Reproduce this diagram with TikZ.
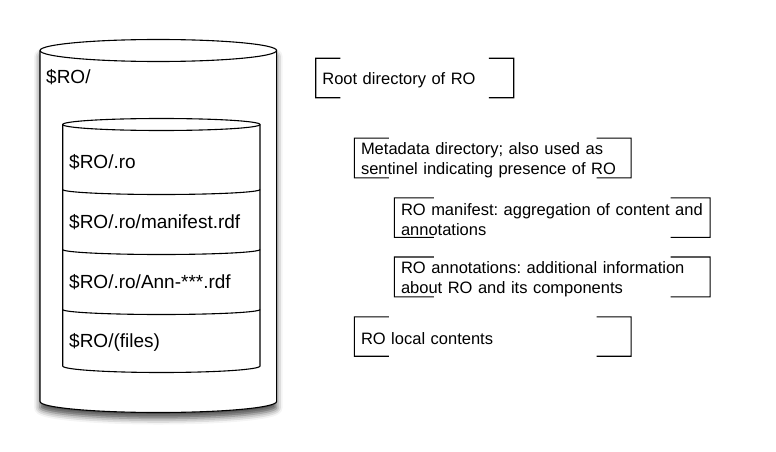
\documentclass[tikz,border=0pt]{standalone}
\usepackage{fontspec}
\setmainfont{Liberation Sans}
\frenchspacing
\usetikzlibrary{positioning,calc,shadows.blur}
\tikzset{
  can/.style={draw=black, line width=1.1pt, fill=white},
  rim/.style={draw=black, line width=1.1pt},
  lbl/.style={anchor=base west, inner sep=0pt, font=\fontsize{19}{23}\selectfont},
  note/.style={anchor=north west, inner xsep=6.5pt, inner ysep=0pt, minimum height=39pt, align=left, font=\fontsize{16.5}{20}\selectfont, execute at begin node=\rule{0pt}{16pt}},
  brk/.style={draw=black, line width=1.1pt}}

\begin{document}
\begin{tikzpicture}[x=1pt, y=-1pt]
\useasboundingbox (0,0) rectangle (776,452);
% outer cylinder
\path[can, blur shadow={shadow xshift=0pt, shadow yshift=-6pt, shadow blur radius=6pt, shadow opacity=70}]
  (40,50.5) -- (40,401.5) arc[start angle=180, end angle=360, x radius=118.3pt, y radius=11pt]
  -- (276.6,50.5) arc[start angle=0, end angle=180, x radius=118.3pt, y radius=11pt] -- cycle;
\draw[rim] (40,50.5) arc[start angle=180, end angle=360, x radius=118.3pt, y radius=11pt];
\node[lbl] (rodir) at (46,84) {\$RO/};
% inner cylinder
\path[can] (62.7,124.5) -- (62.7,366) arc[start angle=180, end angle=360, x radius=98.65pt, y radius=6.5pt]
  -- (260,124.5) arc[start angle=0, end angle=180, x radius=98.65pt, y radius=6pt] -- cycle;
\draw[rim] (62.7,124.5) arc[start angle=180, end angle=360, x radius=98.65pt, y radius=6pt];
\draw[rim] (62.7,189.5) arc[start angle=180, end angle=360, x radius=98.65pt, y radius=5pt];
\draw[rim] (62.7,249.5) arc[start angle=180, end angle=360, x radius=98.65pt, y radius=5pt];
\draw[rim] (62.7,309.5) arc[start angle=180, end angle=360, x radius=98.65pt, y radius=5pt];
\node[lbl] (rometa) at (69,168) {\$RO/.ro};
\node[lbl] (romani) at (69,228) {\$RO/.ro/manifest.rdf};
\node[lbl] (roann) at (69,288) {\$RO/.ro/Ann-***.rdf};
\node[lbl] (rofiles) at (69,347) {\$RO/(files)};
% notes
\node[note, text width=184.6pt] (root) at (315.7,58.3) {Root directory of RO};
\node[note, text width=263.4pt, below right=40.4pt and 38.6pt of root.south west] (meta) {Metadata directory; also used as\\sentinel indicating presence of RO};
\node[note, text width=302.4pt, below right=20pt and 40pt of meta.south west] (mani) {\mbox{RO manifest: aggregation of content and}\\annotations};
\node[note, text width=302.4pt, below right=19.7pt and 0pt of mani.south west] (ann) {RO annotations: additional information\\about RO and its components};
\node[note, text width=263.4pt, below right=20pt and -40pt of ann.south west] (local) {RO local contents};
\foreach \n in {root,meta,mani,ann,local} {
  \draw[brk] ($(\n.north west)!0.125!(\n.north east)$) -- (\n.north west) -- (\n.south west) -- ($(\n.south west)!0.125!(\n.south east)$);
  \draw[brk] ($(\n.north east)!0.125!(\n.north west)$) -- (\n.north east) -- (\n.south east) -- ($(\n.south east)!0.125!(\n.south west)$);
}
\end{tikzpicture}
\end{document}
